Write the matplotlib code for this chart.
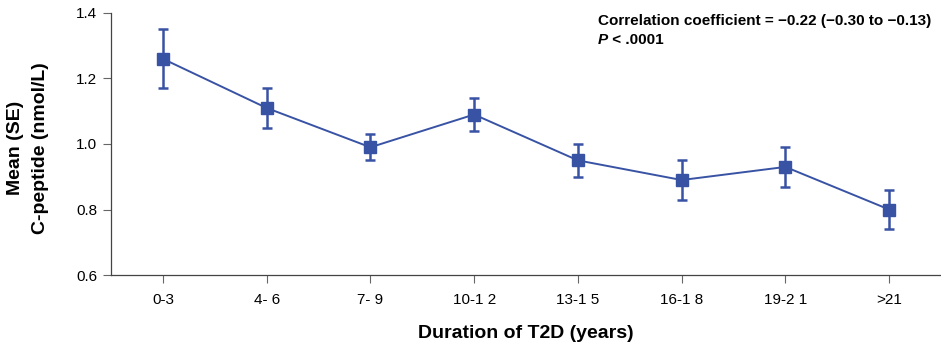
import matplotlib
matplotlib.use("Agg")
import matplotlib.pyplot as plt

categories = ["0-3", "4- 6", "7- 9", "10-1 2", "13-1 5", "16-1 8", "19-2 1", ">21"]
means = [1.26, 1.11, 0.99, 1.09, 0.95, 0.89, 0.93, 0.80]
lower = [1.17, 1.05, 0.95, 1.04, 0.90, 0.83, 0.87, 0.74]
upper = [1.35, 1.17, 1.03, 1.14, 1.00, 0.95, 0.99, 0.86]

plt.rcParams['font.family'] = ['Liberation Sans', 'DejaVu Sans']
color = "#3953a4"

fig = plt.figure(figsize=(9.41, 3.51), dpi=100)
ax = fig.add_axes([0.118, 0.2165, 0.882, 0.7465])

x = list(range(len(categories)))
yerr = [[m - l for m, l in zip(means, lower)], [u - m for m, u in zip(means, upper)]]
ax.errorbar(x, means, yerr=yerr, color=color, marker='s', markersize=8.5,
            linewidth=1.4, elinewidth=1.8, capsize=3.8, capthick=1.8)

ax.set_xlim(-0.5, 7.5)
ax.set_ylim(0.6, 1.4)
ax.set_yticks([0.6, 0.8, 1.0, 1.2, 1.4])
ax.set_yticklabels(["0.6", "0.8", "1.0", "1.2", "1.4"])
ax.set_xticks(x)
ax.set_xticklabels(categories)
ax.tick_params(axis='both', labelsize=11, color='#666666', length=6, width=0.8)
ax.tick_params(axis='x', pad=7)
ax.tick_params(axis='y', pad=4)
for s in ['top', 'right']:
    ax.spines[s].set_visible(False)
for s in ['left', 'bottom']:
    ax.spines[s].set_color('#444444')
    ax.spines[s].set_linewidth(0.9)

ax.set_xlabel("Duration of T2D (years)", fontsize=14, fontweight='bold', labelpad=13)
fig.text(0.017, 0.578, "Mean (SE)", rotation=90, fontsize=14, fontweight='bold', ha='center', va='center')
fig.text(0.043, 0.578, "C-peptide (nmol/L)", rotation=90, fontsize=14, fontweight='bold', ha='center', va='center')

fig.text(0.635, 0.94, "Correlation coefficient = \u22120.22 (\u22120.30 to \u22120.13)",
         fontsize=11, fontweight='bold', ha='left', va='center')
ptxt = fig.text(0.635, 0.886, "P", fontsize=11, fontweight='bold', style='italic', ha='left', va='center')
ax.annotate(" < .0001", xy=(1, 0.5), xycoords=ptxt, fontsize=11, fontweight='bold', ha='left', va='center',
            annotation_clip=False)

fig.savefig("out.png", dpi=100)
